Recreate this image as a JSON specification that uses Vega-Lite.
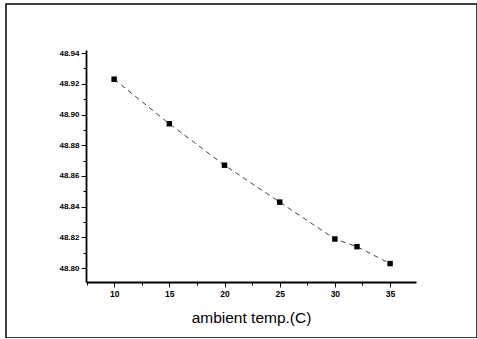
{
  "$schema": "https://vega.github.io/schema/vega-lite/v6.json",
  "width": 471,
  "height": 334,
  "autosize": {"type": "none"},
  "padding": {"left": 6, "top": 4, "right": 0, "bottom": 0},
  "background": "white",
  "config": {
    "view": {"stroke": "#000", "strokeWidth": 1.5},
    "font": "Liberation Sans"
  },
  "data": {
    "values": [
      {"temp": 10, "value": 48.923},
      {"temp": 15, "value": 48.894},
      {"temp": 20, "value": 48.867},
      {"temp": 25, "value": 48.843},
      {"temp": 30, "value": 48.819},
      {"temp": 32, "value": 48.814},
      {"temp": 35, "value": 48.803}
    ]
  },
  "encoding": {
    "x": {
      "field": "temp",
      "type": "quantitative",
      "scale": {"domain": [7.45, 37.35], "range": [80, 410], "nice": false, "zero": false},
      "axis": {
        "title": "ambient temp.(C)",
        "titleFont": "Liberation Sans",
        "titleFontSize": 15.5,
        "titleFontWeight": "normal",
        "titleColor": "#000",
        "titlePadding": 13,
        "offset": -56,
        "grid": false,
        "values": [7.5, 10, 12.5, 15, 17.5, 20, 22.5, 25, 27.5, 30, 32.5, 35, 37.5],
        "labelExpr": "datum.value % 5 == 0 ? datum.value : ''",
        "labelFontSize": 8.5,
        "labelFontWeight": "bold",
        "labelColor": "#000",
        "labelPadding": 2,
        "labelFlush": false,
        "labelOverlap": false,
        "tickSize": {"condition": {"test": "datum.value % 5 == 0", "value": 5}, "value": 3},
        "tickColor": "#000",
        "domainColor": "#000",
        "domainWidth": 1.8,
        "tickWidth": 1
      }
    },
    "y": {
      "field": "value",
      "type": "quantitative",
      "scale": {"domain": [48.791, 48.942], "range": [278, 46], "nice": false, "zero": false},
      "axis": {
        "title": null,
        "offset": -80,
        "grid": false,
        "values": [48.8, 48.81, 48.82, 48.83, 48.84, 48.85, 48.86, 48.87, 48.88, 48.89, 48.9, 48.91, 48.92, 48.93, 48.94],
        "labelExpr": "round(datum.value * 100) % 2 == 0 ? format(datum.value, '.2f') : ''",
        "labelFontSize": 8,
        "labelFontWeight": "bold",
        "labelColor": "#000",
        "labelPadding": 2,
        "labelFlush": false,
        "labelOverlap": false,
        "tickSize": {"condition": {"test": "round(datum.value * 100) % 2 == 0", "value": 5}, "value": 3},
        "tickColor": "#000",
        "domainColor": "#000",
        "domainWidth": 1.8,
        "tickWidth": 1
      }
    }
  },
  "layer": [
    {
      "mark": {"type": "line", "color": "#444", "strokeWidth": 1, "strokeDash": [5, 4]}
    },
    {
      "mark": {"type": "square", "color": "#000", "filled": true, "size": 30, "opacity": 1}
    }
  ]
}
